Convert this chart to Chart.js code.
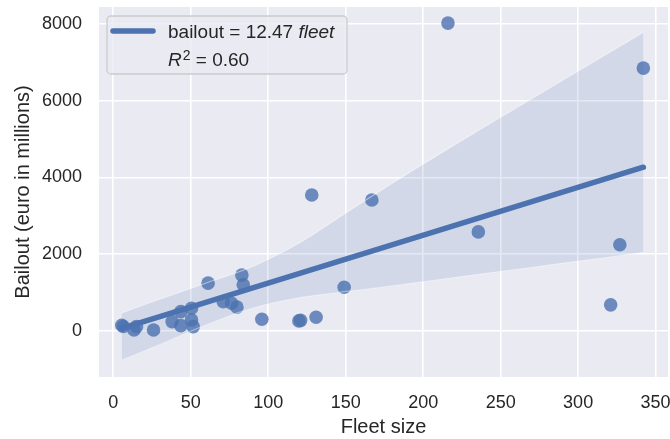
<!DOCTYPE html>
<html>
<head>
<meta charset="utf-8">
<script src="https://cdn.jsdelivr.net/npm/chart.js@4.4.1/dist/chart.umd.min.js"></script>
<style>
  html, body { margin: 0; padding: 0; background: #ffffff; }
  #wrap { width: 670px; height: 439px; }
</style>
</head>
<body>
<div id="wrap"><canvas id="chart" width="670" height="439"></canvas></div>
<script>
// Airline fleet size against state bailout (euro in millions)
const fleetSize = [5.5, 6.5, 13.4, 15, 26, 38, 43.6, 43.6, 50.5, 50.5, 51.6, 61.2, 71, 76.4, 79.8,
  83, 83.9, 95.9, 119.8, 120.9, 128.1, 130.9, 149, 166.9, 216, 235.6, 321, 326.9, 342.1];
const bailout = [150, 115, 26, 112, 26, 243, 503, 138, 591, 287, 112, 1245, 763, 721, 620,
  1455, 1205, 305, 262, 276, 3543, 357, 1140, 3413, 8020, 2580, 680, 2245, 6848];

// Fit reported in the legend
const slope = 12.47;
const rSquared = 0.60;

// 95% confidence band around the fit
const ciFleet = [5.5, 30, 60, 90, 120, 150, 180, 210, 240, 270, 300, 342.1];
const ciUpper = [470, 830, 1250, 1680, 2290, 3070, 3850, 4600, 5330, 6050, 6770, 7783];
const ciLower = [-755, -350, 160, 600, 870, 1030, 1180, 1340, 1500, 1660, 1820, 2050];

const xTicks = [0, 50, 100, 150, 200, 250, 300, 350];
const yTicks = [0, 2000, 4000, 6000, 8000];

const FONT = '"Liberation Sans", Arial, Helvetica, sans-serif';
const INK = '#262626';
const BLUE = '#4C72B0';

const xMin = Math.min(...fleetSize);
const xMax = Math.max(...fleetSize);

const points = fleetSize.map((x, i) => ({ x, y: bailout[i] }));
const fitLine = [xMin, xMax].map(x => ({ x, y: slope * x }));
const upperBand = ciFleet.map((x, i) => ({ x, y: ciUpper[i] }));
const lowerBand = ciFleet.map((x, i) => ({ x, y: ciLower[i] }));

// Grey plotting panel behind the grid
const panelBackground = {
  id: 'panelBackground',
  beforeDraw(chart) {
    const { ctx, chartArea: a } = chart;
    ctx.save();
    ctx.fillStyle = '#EAEAF2';
    ctx.fillRect(a.left, a.top, a.right - a.left, a.bottom - a.top);
    ctx.restore();
  }
};

// Legend box with the fitted equation and R squared
const fitLegend = {
  id: 'fitLegend',
  afterDraw(chart) {
    const ctx = chart.ctx;
    ctx.save();
    const bx = 107, by = 16, bw = 240, bh = 58, r = 4;
    ctx.beginPath();
    ctx.moveTo(bx + r, by);
    ctx.arcTo(bx + bw, by, bx + bw, by + bh, r);
    ctx.arcTo(bx + bw, by + bh, bx, by + bh, r);
    ctx.arcTo(bx, by + bh, bx, by, r);
    ctx.arcTo(bx, by, bx + bw, by, r);
    ctx.closePath();
    ctx.fillStyle = 'rgba(234,234,242,0.8)';
    ctx.fill();
    ctx.strokeStyle = '#CCCCCC';
    ctx.lineWidth = 1.3;
    ctx.stroke();

    // line sample
    ctx.beginPath();
    ctx.moveTo(113, 31);
    ctx.lineTo(153, 31);
    ctx.strokeStyle = BLUE;
    ctx.lineWidth = 5.5;
    ctx.lineCap = 'round';
    ctx.stroke();

    ctx.fillStyle = INK;
    ctx.textBaseline = 'alphabetic';
    ctx.textAlign = 'left';
    let x = 168;
    ctx.font = '19px ' + FONT;
    const head = 'bailout = ' + slope.toFixed(2) + ' ';
    ctx.fillText(head, x, 38);
    x += ctx.measureText(head).width;
    ctx.font = 'italic 19px ' + FONT;
    ctx.fillText('fleet', x, 38);

    x = 168;
    ctx.font = 'italic 19px ' + FONT;
    ctx.fillText('R', x, 66);
    x += ctx.measureText('R').width + 1;
    ctx.font = '14px ' + FONT;
    ctx.fillText('2', x, 60);
    x += ctx.measureText('2').width;
    ctx.font = '19px ' + FONT;
    ctx.fillText(' = ' + rSquared.toFixed(2), x, 66);
    ctx.restore();
  }
};

const gridStyle = { color: '#FFFFFF', lineWidth: 1.6, drawTicks: false, tickLength: 0 };
const plainNumber = v => String(v);

new Chart(document.getElementById('chart'), {
  type: 'scatter',
  data: {
    datasets: [
      {
        type: 'line',
        label: 'fit',
        data: fitLine,
        borderColor: BLUE,
        borderWidth: 5.5,
        borderCapStyle: 'round',
        pointRadius: 0,
        fill: false,
        order: 0
      },
      {
        type: 'line',
        label: 'ci upper',
        data: upperBand,
        borderColor: 'rgba(255,255,255,0.45)',
        borderWidth: 1.2,
        backgroundColor: 'rgba(76,114,176,0.15)',
        pointRadius: 0,
        cubicInterpolationMode: 'monotone',
        fill: '+1',
        order: 1
      },
      {
        type: 'line',
        label: 'ci lower',
        data: lowerBand,
        borderColor: 'rgba(255,255,255,0.45)',
        borderWidth: 1.2,
        pointRadius: 0,
        cubicInterpolationMode: 'monotone',
        fill: false,
        order: 1
      },
      {
        type: 'scatter',
        label: 'airlines',
        data: points,
        backgroundColor: 'rgba(76,114,176,0.8)',
        borderWidth: 0,
        pointRadius: 6.8,
        pointHoverRadius: 6.8,
        order: 2
      }
    ]
  },
  options: {
    responsive: false,
    animation: false,
    devicePixelRatio: 1,
    layout: { autoPadding: false, padding: { top: 7, right: 2, bottom: 0, left: 0 } },
    plugins: {
      legend: { display: false },
      tooltip: { enabled: false }
    },
    scales: {
      x: {
        type: 'linear',
        min: -9.2,
        max: 358,
        afterBuildTicks: axis => { axis.ticks = xTicks.map(v => ({ value: v })); },
        afterFit: axis => {
          axis.height = 62;
          axis.paddingLeft = 0;
          axis.paddingRight = 0;
        },
        grid: gridStyle,
        border: { display: false },
        ticks: { padding: 15, color: INK, font: { size: 18, family: FONT }, callback: plainNumber },
        title: {
          display: true, text: 'Fleet size', color: INK,
          font: { size: 20, family: FONT }, padding: { top: 0, bottom: 0 }
        }
      },
      y: {
        type: 'linear',
        min: -1200,
        max: 8440,
        afterBuildTicks: axis => { axis.ticks = yTicks.map(v => ({ value: v })); },
        afterFit: axis => {
          axis.width = 99;
          axis.paddingTop = 0;
          axis.paddingBottom = 0;
        },
        grid: gridStyle,
        border: { display: false },
        ticks: { padding: 17, color: INK, font: { size: 18, family: FONT }, callback: plainNumber },
        title: {
          display: true, text: 'Bailout (euro in millions)', color: INK,
          font: { size: 20, family: FONT }, padding: { top: 11, bottom: 0 }
        }
      }
    }
  },
  plugins: [panelBackground, fitLegend]
});
</script>
</body>
</html>
